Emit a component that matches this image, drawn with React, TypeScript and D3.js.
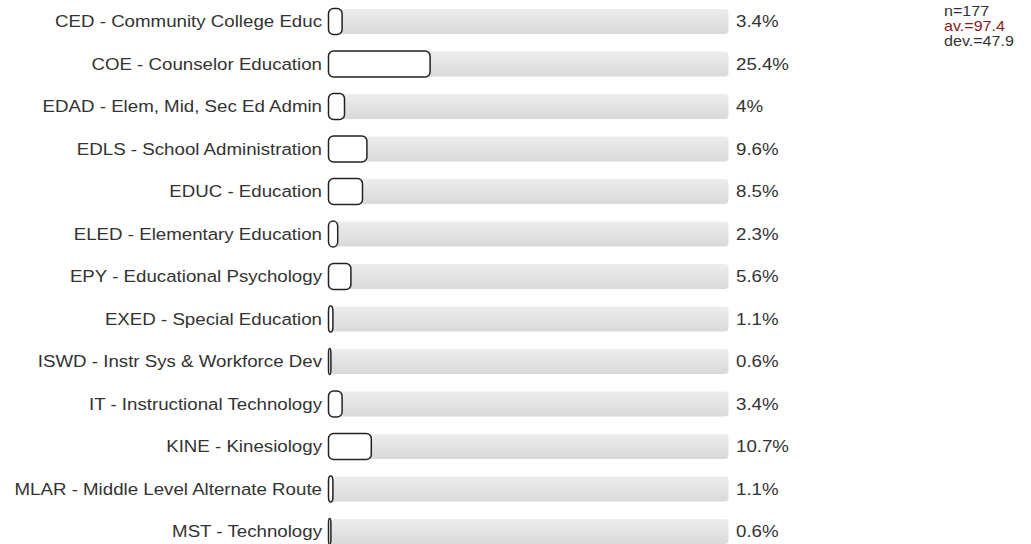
import React from "react";
import * as d3 from "d3";

const categories = [
  "CED - Community College Educ",
  "COE - Counselor Education",
  "EDAD - Elem, Mid, Sec Ed Admin",
  "EDLS - School Administration",
  "EDUC - Education",
  "ELED - Elementary Education",
  "EPY - Educational Psychology",
  "EXED - Special Education",
  "ISWD - Instr Sys & Workforce Dev",
  "IT - Instructional Technology",
  "KINE - Kinesiology",
  "MLAR - Middle Level Alternate Route",
  "MST - Technology",
];
const values = [3.4, 25.4, 4, 9.6, 8.5, 2.3, 5.6, 1.1, 0.6, 3.4, 10.7, 1.1, 0.6];
const valueLabels = ["3.4%", "25.4%", "4%", "9.6%", "8.5%", "2.3%", "5.6%", "1.1%", "0.6%", "3.4%", "10.7%", "1.1%", "0.6%"];
const statsLines = ["n=177", "av.=97.4", "dev.=47.9"];

export default function App() {
  const W = 1031;
  const H = 544;
  const x = d3.scaleLinear().domain([0, 100]).range([328.5, 728.5]);
  const y = d3.scaleBand<number>().domain(d3.range(categories.length)).range([9, 9 + 42.5 * categories.length]).paddingInner(0).paddingOuter(0);
  const trackH = 25;
  const font = "Arial, 'Liberation Sans', Helvetica, sans-serif";
  return (
    <svg width={W} height={H} style={{ position: "absolute", left: 0, top: 0, display: "block" }}>
      <defs>
        <linearGradient id="trk" x1="0" y1="0" x2="0" y2="1">
          <stop offset="0" stopColor="#ededed" />
          <stop offset="1" stopColor="#d9d9d9" />
        </linearGradient>
      </defs>
      {categories.map((c, i) => {
        const top = y(i)!;
        const cy = top + trackH / 2;
        const w = x(values[i]) - x(0);
        return (
          <g key={c}>
            <rect x={330} y={top} width={x(100) - 330} height={trackH} rx={4} ry={4} fill="url(#trk)" />
            <rect x={x(0)} y={top - 0.5} width={w} height={trackH + 1} rx={Math.min(5, w / 2)} ry={5} fill="#fff" stroke="#222" strokeWidth={1.5} />
            <text transform={`translate(322,${cy}) scale(1.1,1)`} dy="0.35em" textAnchor="end" fontFamily={font} fontSize={17} fill="#333">{c}</text>
            <text transform={`translate(736,${cy}) scale(1.1,1)`} dy="0.35em" textAnchor="start" fontFamily={font} fontSize={17} fill="#333">{valueLabels[i]}</text>
          </g>
        );
      })}
      {statsLines.map((s, i) => (
        <text key={s} transform={`translate(944,${16 + i * 15}) scale(1.15,1)`} fontFamily={font} fontSize={14} fill={i === 1 ? "#8b1a1a" : "#333"}>{s}</text>
      ))}
    </svg>
  );
}
